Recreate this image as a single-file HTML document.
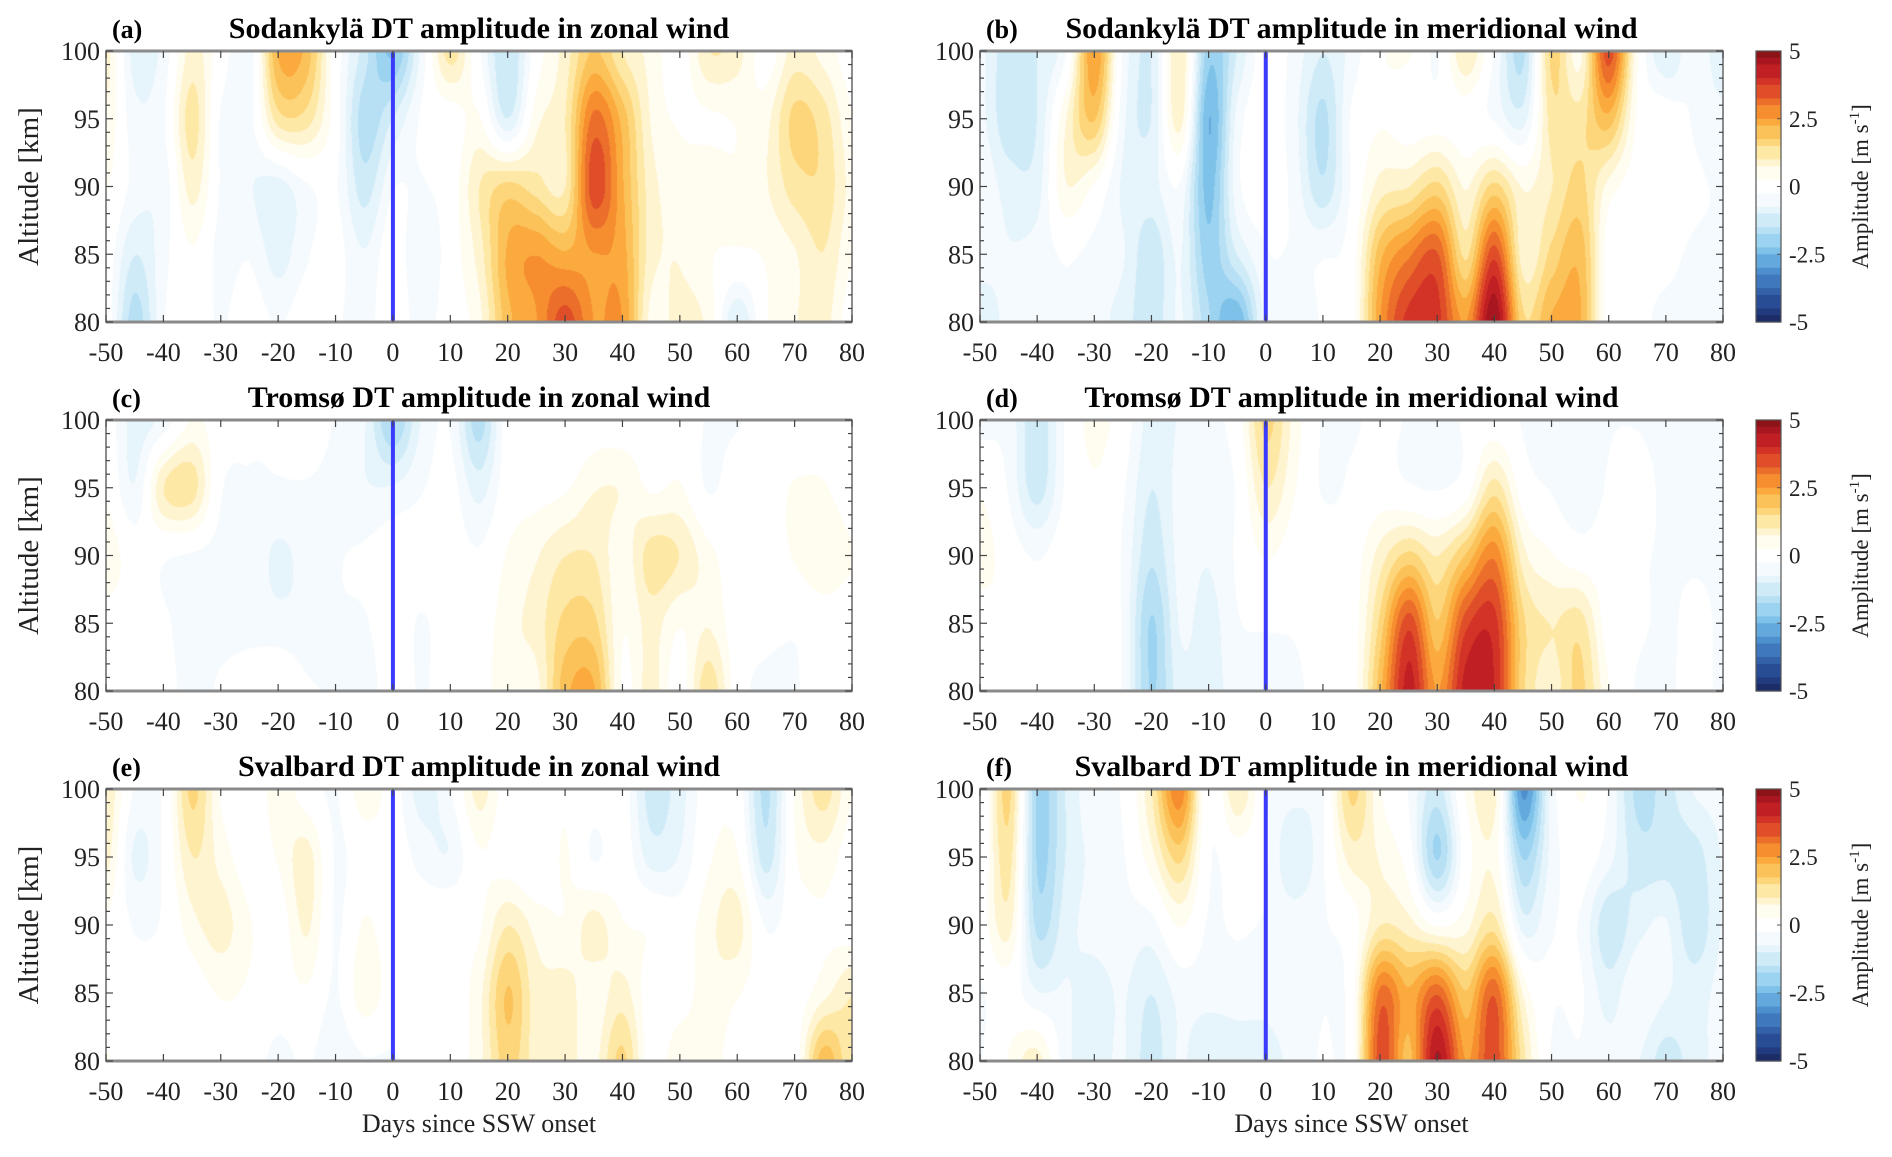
<!DOCTYPE html>
<html><head><meta charset="utf-8">
<style>
html,body{margin:0;padding:0;background:#fff;}
#wrap{position:relative;width:1892px;height:1157px;overflow:hidden;background:#fff;font-family:"Liberation Serif",serif;}
canvas{position:absolute;left:0;top:0;}
svg{position:absolute;left:0;top:0;font-family:"Liberation Serif",serif;}
svg text{font-family:"Liberation Serif",serif;}
</style></head>
<body>
<div id="wrap">
<canvas id="cv" width="1892" height="1157"></canvas>
<svg id="sv" width="1892" height="1157" font-family="Liberation Serif, serif"></svg>
</div>
<script>
// ---- data: columns are days since SSW onset, rows are altitudes ----
const days = [-50,-45,-40,-35,-30,-25,-20,-15,-10,-5,0,5,10,15,20,25,30,35,40,45,50,55,60,65,70,75,80];
const altitudes = [100,95,90,85,80];
const xTicks = [-50,-40,-30,-20,-10,0,10,20,30,40,50,60,70,80];
const yTicks = [80,85,90,95,100];
const cbTicks = [5,2.5,0,-2.5,-5];
const titles = ["Sodankylä DT amplitude in zonal wind","Sodankylä DT amplitude in meridional wind","Tromsø DT amplitude in zonal wind","Tromsø DT amplitude in meridional wind","Svalbard DT amplitude in zonal wind","Svalbard DT amplitude in meridional wind"];
const panelLabels = ["(a)","(b)","(c)","(d)","(e)","(f)"];

const sodZonal = [
[0.8,-0.8,-0.5,0.8,0,-0.5,2.2,2.0,0,-1.2,-2.2,-0.5,1.2,-0.2,-1.4,0,0.8,1.8,1.0,0.5,0,1.0,0.8,0,0.8,0.5,0],
[0.6,-0.5,-0.3,1.2,-0.3,-0.4,1.2,1.2,0,-1.6,-1.0,-0.2,0,0.3,-1.0,0.5,1.0,3.0,2.0,0.6,0.2,0.2,0.3,0.5,1.5,1.2,0.3],
[0.3,-0.4,-0.5,0.8,-0.3,-0.6,-0.8,-0.3,-0.2,-1.2,-0.3,-0.3,0,1.0,1.5,1.2,1.0,3.5,2.2,0.8,0.5,0.5,0.3,0.6,1.2,1.3,0.5],
[0,-1.0,-0.4,0.2,-0.4,-0.3,-0.8,-0.3,-0.1,-0.6,0,-0.6,0,0.8,2.2,2.5,2.2,2.5,2.3,0.8,0.6,0.3,0.2,0.3,0.6,1.0,0.3],
[0,-1.6,-0.3,0,-0.3,0,-0.3,0,-0.2,-0.4,0,-0.4,0,0.5,2.0,2.5,3.5,2.5,2.5,0.5,0.8,0.5,-1.0,0.2,0.6,0.8,0]];
const sodMerid = [
[-0.5,-1.3,-1.0,-0.3,2.5,-0.3,-1.0,1.0,-2.0,-1.0,0,-0.4,-1.0,-0.5,0.2,0.3,-0.3,1.0,-0.3,-1.5,1.5,0.5,3.5,0.3,-1.0,-0.3,-1.0],
[-0.5,-1.3,-1.0,0.6,1.8,-0.5,-1.0,0.8,-2.5,-0.5,0,-0.5,-1.5,-0.2,0.2,0,0,0,-0.3,-0.8,1.2,1.2,2.0,0.2,0,-0.3,-0.5],
[-0.3,-0.8,-0.8,0.6,0.2,-0.7,-0.8,-0.3,-2.3,-0.4,0,-0.4,-1.3,-0.2,0.8,1.0,1.5,0.6,1.5,0.6,1.0,1.5,0.5,0,0,-0.2,-0.3],
[-0.4,-0.6,-0.5,-0.2,-0.4,-0.6,-1.3,-0.6,-2.0,-1.0,-0.3,-0.3,-0.3,0,2.0,2.8,3.3,1.3,3.5,0.8,1.5,2.0,0,-0.2,-0.2,-0.3,-0.3],
[-1.0,-0.5,-0.6,-0.3,-0.5,-0.8,-1.3,-0.6,-1.7,-2.5,-0.5,-0.6,-0.2,0,2.5,3.8,3.8,2.5,4.8,1.5,2.2,2.2,0,-0.2,-0.3,-0.3,-0.3]];
const troZonal = [
[0,-0.8,-0.5,0.3,0,-0.2,-0.2,0,-0.3,-0.6,-1.8,-0.6,-0.3,-1.6,0,0,-0.2,0,0,0,0,-0.3,-0.3,0,-0.2,0,0],
[0.2,-0.6,1.0,1.2,-0.2,-0.3,-0.3,-0.3,-0.4,-0.6,-0.6,-0.3,-0.1,-0.8,0,0.1,0.2,0.6,0.6,0.2,0.3,-0.3,0,0,0.3,0.3,0],
[0.5,0,-0.2,-0.3,-0.4,-0.4,-0.7,-0.5,-0.3,-0.2,0,0,0,-0.2,0.3,0.6,1.0,1.0,0.4,1.2,1.0,0.4,0,0,0.3,0.6,0.3],
[0.1,0,-0.2,-0.4,-0.4,-0.4,-0.5,-0.5,-0.3,-0.3,0,-0.3,0,0,0.5,0.8,1.5,1.5,0.3,0.8,0.3,0.6,0,-0.1,-0.2,0,0],
[0,0,-0.1,-0.4,-0.2,0,0.2,-0.2,-0.3,-0.5,0,-0.3,0,0,0.6,0.5,2.0,2.2,0.2,0.8,0,1.3,0,-0.4,-0.3,0,0]];
const troMerid = [
[-0.4,-0.4,-1.3,-0.2,0.4,0,-0.8,-0.6,-0.4,0,1.5,0.5,-0.3,-0.3,-0.2,-0.3,-0.5,-0.2,0,-0.3,-0.5,-0.5,-0.3,-0.3,-0.5,-0.6,-0.3],
[0.2,-0.3,-1.2,-0.2,0.2,-0.2,-1.0,-0.5,-0.5,-0.2,1.0,0.3,-0.3,-0.2,0,-0.2,-0.3,0,1.2,0,-0.3,-0.6,-0.2,0,-0.4,-0.4,-0.3],
[0.5,0,-0.3,0,0,-0.3,-1.3,-0.5,-0.6,-0.2,0.3,0,0,0,0.8,1.5,1.0,1.8,2.8,0.8,0.3,0,0,-0.2,-0.3,-0.3,-0.3],
[0,0.2,-0.2,0,0,-0.3,-1.8,-0.6,-0.8,-0.3,-0.2,-0.2,0,0,1.5,3.5,1.8,3.5,3.8,1.5,1.0,1.2,0,-0.2,-0.3,-0.2,-0.3],
[0,0,-0.2,0,0,-0.3,-1.8,-0.8,-0.8,-0.5,-0.6,-0.4,0,0,2.0,4.2,2.5,4.2,4.0,1.5,0.8,1.5,0.3,-0.3,-0.3,-0.2,-0.3]];
const svaZonal = [
[1.0,-0.3,-0.2,1.5,0.2,-0.2,0.5,0,-0.3,0.5,0,-0.8,-0.3,0.8,0,0.2,0.2,0,0,-1.2,-0.8,0,0,-1.5,0.3,1.2,0.3],
[0.8,-0.7,-0.2,1.0,0.5,0,0.3,0.8,-0.3,0,0,-0.4,-0.6,0.2,0,-0.2,0.3,-0.3,0,-0.8,-0.6,0.2,0.3,-1.2,0.2,0.5,0],
[0.2,-0.3,-0.2,0.5,0.8,0.3,0,0.7,-0.3,0.3,0,0,0.2,0.2,1.0,0.5,0.3,0.8,0.3,0.2,0,0.5,0.8,-0.3,0,0.2,0],
[0,-0.1,0,0,0.3,0.2,0,0.2,-0.3,0.5,0,-0.2,0,0.5,1.8,0.8,0.8,0.4,0.8,0,0,0.5,0.3,0,0,0.5,1.0],
[0.3,0,0,0,0,0,-0.4,-0.2,-0.6,-0.3,-0.3,-0.1,0,0.5,1.6,0.8,0.8,0.5,1.5,0,0.6,0.5,0,0,0,2.0,1.0]];
const svaMerid = [
[-0.3,1.5,-1.8,-1.0,-0.3,-0.2,1.0,2.8,-0.2,1.0,-0.2,-0.5,-0.3,1.5,0.3,-0.3,-1.2,0.3,0.8,-3.0,-0.5,0.3,-0.3,-1.5,-1.2,-0.6,-0.5],
[-0.2,1.2,-1.8,-1.0,-0.5,-0.3,0.5,1.5,-0.2,0,-0.2,-1.0,-0.3,0.8,0.6,0,-1.8,0,0.5,-1.8,-0.5,0,-0.5,-1.2,-1.2,-1.2,-0.6],
[0,0.8,-1.5,-0.8,-0.5,-0.4,-0.4,0.3,-0.3,-0.2,-0.3,-0.4,-0.3,0,1.0,0.8,0.2,0.5,1.2,-0.8,-0.3,-0.3,-1.3,-0.8,-0.6,-1.3,-0.6],
[-0.3,0,-0.6,-0.6,-0.8,-0.6,-1.0,-0.5,-0.5,-0.5,-0.5,-0.4,-0.3,0,3.0,2.2,3.2,1.8,3.2,0.6,-0.2,-0.2,-0.8,-0.3,-0.6,-0.8,-0.5],
[-0.3,0.3,0.8,-0.5,-0.8,-0.6,-1.2,-0.6,-1.0,-0.8,-0.8,-0.5,-0.2,0,3.5,2.0,4.5,2.5,3.5,1.2,-0.3,-0.3,-0.5,-0.6,-1.2,-0.8,-0.5]];
const panelData = [sodZonal,sodMerid,troZonal,troMerid,svaZonal,svaMerid];

// ---- layout ----
const colX = [[106,852],[980,1723]];
const rowY = [[51,322],[420,691],[789,1061]];
const palPos = ["#ffffff","#fffcf0","#fff4d0","#fee8a6","#fdd67c","#fcc25a","#fbaa3e","#f68e30","#ec6e2b","#df4e28","#d33227","#c01f24","#a8171f","#8c1418"];
const palNeg = ["#ffffff","#f4fafd","#e6f4fb","#d0ebf8","#b8e0f5","#9cd3f0","#7fc2e9","#63a9dd","#4e90ce","#3f78bc","#3362a9","#294d94","#213b7e","#1b2c66"];
function colorFor(v){
  let q = Math.round(v/0.375 - Math.sign(v)*0.2);
  if(q>13)q=13; if(q<-13)q=-13;
  return q>=0?palPos[q]:palNeg[-q];
}
function cr(p0,p1,p2,p3,t){
  return 0.5*((2*p1)+(-p0+p2)*t+(2*p0-5*p1+4*p2-p3)*t*t+(-p0+3*p1-3*p2+p3)*t*t*t);
}
function sample(grid,d,a){
  const nx=days.length, ny=altitudes.length;
  let fx=(d-days[0])/(days[1]-days[0]);
  let fy=(altitudes[0]-a)/(altitudes[0]-altitudes[1]);
  let ix=Math.floor(fx), iy=Math.floor(fy);
  if(ix>=nx-1)ix=nx-2; if(iy>=ny-1)iy=ny-2;
  const tx=fx-ix, ty=fy-iy;
  const g=(r,c)=>grid[Math.max(0,Math.min(ny-1,r))][Math.max(0,Math.min(nx-1,c))];
  const rows=[];
  for(let r=iy-1;r<=iy+2;r++){
    rows.push(cr(g(r,ix-1),g(r,ix),g(r,ix+1),g(r,ix+2),tx));
  }
  return cr(rows[0],rows[1],rows[2],rows[3],ty);
}
const cv=document.getElementById('cv');
const ctx=cv.getContext('2d');
const SVGNS="http://www.w3.org/2000/svg";
const sv=document.getElementById('sv');
function mk(tag,attrs,parent){
  const e=document.createElementNS(SVGNS,tag);
  for(const k in attrs)e.setAttribute(k,attrs[k]);
  (parent||sv).appendChild(e);return e;
}
const FF='Liberation Serif, serif';
for(let p=0;p<6;p++){
  const c=p%2, r=Math.floor(p/2);
  const [x0,x1]=colX[c], [y0,y1]=rowY[r];
  const xs=d=>x0+(d-(-50))/130*(x1-x0);
  const ys=a=>y1-(a-80)/20*(y1-y0);
  const grid=panelData[p];
  const img=ctx.createImageData(x1-x0,y1-y0);
  for(let py=0;py<y1-y0;py++){
    const a=100-(py+0.5)/(y1-y0)*20;
    for(let px=0;px<x1-x0;px++){
      const d=-50+(px+0.5)/(x1-x0)*130;
      const col=colorFor(sample(grid,d,a));
      const i=(py*(x1-x0)+px)*4;
      img.data[i]=parseInt(col.substr(1,2),16);
      img.data[i+1]=parseInt(col.substr(3,2),16);
      img.data[i+2]=parseInt(col.substr(5,2),16);
      img.data[i+3]=255;
    }
  }
  ctx.putImageData(img,x0,y0);
  const g=mk('g',{'font-family':FF});
  
  
  const ln=mk('line',{x1:xs(0),x2:xs(0),y1:y0,y2:y1,stroke:'#3b3bff','stroke-width':4},g);
  
  
  const fr=mk('rect',{x:x0,y:y0,width:x1-x0,height:y1-y0,fill:'none',stroke:'#666','stroke-width':1.5},g);
  
  
  mk('line',{x1:x0,x2:x1,y1:y0,y2:y0,stroke:'#8a8a8a','stroke-width':3},g);
  mk('line',{x1:x0,x2:x1,y1:y1,y2:y1,stroke:'#8a8a8a','stroke-width':3},g);
  xTicks.forEach(t=>{
    const x=xs(t);
    mk('line',{x1:x,x2:x,y1:y1,y2:y1-7,stroke:'#444','stroke-width':1.2},g);
    mk('line',{x1:x,x2:x,y1:y0,y2:y0+7,stroke:'#444','stroke-width':1.2},g);
    const tx=mk('text',{x:x,y:y1+39,'text-anchor':'middle','font-size':26,fill:'#222','font-family':FF},g);
    tx.textContent=t;
    
    
  });
  for(let a=80;a<=100;a++){
    const y=ys(a);
    const len=(a%5===0)?7:4;
    mk('line',{x1:x0,x2:x0+len,y1:y,y2:y,stroke:'#444','stroke-width':1.2},g);
    mk('line',{x1:x1,x2:x1-len,y1:y,y2:y,stroke:'#444','stroke-width':1.2},g);
  }
  yTicks.forEach(t=>{
    const ty=mk('text',{x:x0-6,y:ys(t)+9,'text-anchor':'end','font-size':26,fill:'#222','font-family':FF},g);
    ty.textContent=t;
    
    
  });
  const tt=mk('text',{x:(x0+x1)/2,y:y0-13,'text-anchor':'middle','font-size':30,'font-weight':'bold',fill:'#000','font-family':FF},g);
  tt.textContent=titles[p];
  
  
  const pl=mk('text',{x:x0+6,y:y0-13,'font-size':26,'font-weight':'bold',fill:'#000','font-family':FF},g);
  pl.textContent=panelLabels[p];
  
  
  if(c===0){
    const yl=mk('text',{x:0,y:0,'text-anchor':'middle','font-size':29,fill:'#222','font-family':FF,transform:`translate(38,${(y0+y1)/2}) rotate(-90)`},g);
    yl.textContent='Altitude [km]';
    
    
  }
  if(r===2){
    const xl=mk('text',{x:(x0+x1)/2,y:1132,'text-anchor':'middle','font-size':26,fill:'#222','font-family':FF},g);
    xl.textContent='Days since SSW onset';
    
    
  }
  if(c===1){
    const cbx0=1756, cbx1=1781;
    const cb=mk('g',{},g);
    
    
    const nL=40;
    for(let k=0;k<nL;k++){
      const v=5-(k+0.5)*10/nL;
      const yy=y0+k*(y1-y0)/nL;
      mk('rect',{x:cbx0,y:yy,width:cbx1-cbx0,height:(y1-y0)/nL+0.6,fill:colorFor(v)},cb);
    }
    mk('rect',{x:cbx0,y:y0,width:cbx1-cbx0,height:y1-y0,fill:'none',stroke:'#555','stroke-width':1.2},cb);
    cbTicks.forEach(t=>{
      const yy=y0+(5-t)/10*(y1-y0);
      mk('line',{x1:cbx1,x2:cbx1-4,y1:yy,y2:yy,stroke:'#555'},cb);
      const ct=mk('text',{x:cbx1+8,y:yy+8,'font-size':23,fill:'#222','font-family':FF},cb);
      ct.textContent=t;
      
      
    });
    const cl=mk('text',{x:0,y:0,'text-anchor':'middle','font-size':23,fill:'#222','font-family':FF,transform:`translate(1868,${(y0+y1)/2}) rotate(-90)`},cb);
    cl.innerHTML='Amplitude [m s<tspan dy="-9" font-size="15">-1</tspan><tspan dy="9">]</tspan>';
    
    
  }
}
</script>
</body></html>
